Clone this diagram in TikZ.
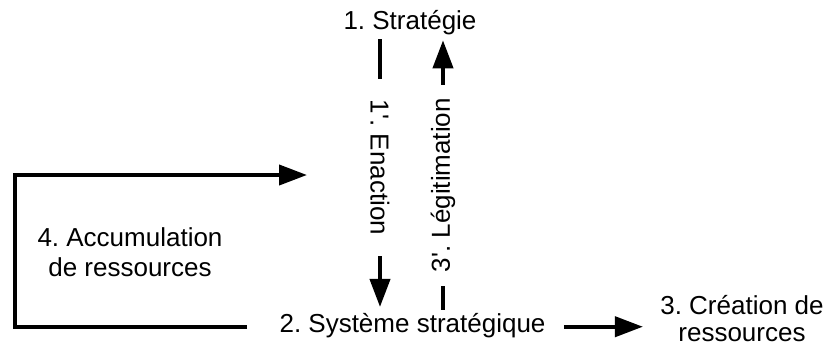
\documentclass[tikz,border=0pt]{standalone}
\usepackage{fontspec}
\setmainfont{Liberation Sans}
\usetikzlibrary{arrows.meta, positioning, calc}
\frenchspacing

\begin{document}
\begin{tikzpicture}[
  x=0.5pt, y=-0.5pt,
  txt/.style={inner sep=0pt, align=center, font=\fontsize{13}{15}\selectfont},
  flowtxt/.style={fill=white, inner ysep=1pt, font=\fontsize{13}{15}\selectfont},
  link/.style={line width=2pt, draw=black},
  arrow/.style={link, -{Triangle[length=14pt, width=10pt]}}
]
  \useasboundingbox (0,0) rectangle (826,349);

  \node[txt, anchor=base] (strat) at (410,29) {1. Stratégie};
  \node[txt, anchor=base] (sys) at (412.5,332) {2. Système stratégique};
  \node[txt, anchor=base, font=\fontsize{13}{13.4}\selectfont] (creat) at (742,341.7) {3. Création de\\ressources};
  \node[txt, anchor=base] (accum) at (130,276.7) {4. Accumulation\\de ressources};

  % enaction down, legitimation up
  \coordinate (enTop) at ($(strat.south)+(-30,4.5)$);
  \coordinate (legTop) at ($(strat.south)+(33,5.5)$);
  \draw[arrow] (enTop) -- node[flowtxt, rotate=-90, inner xsep=10.25pt, pos=0.479] {1\textquotesingle. Enaction} ($(enTop |- sys.north)+(0,-5.5)$);
  \draw[arrow] ($(legTop |- sys.north)+(0,-2.5)$) -- node[flowtxt, rotate=90, inner xsep=6.75pt, pos=0.463] {3\textquotesingle. Légitimation} (legTop);

  % accumulation loop
  \coordinate (loopCorner) at (15,175);
  \coordinate (loopEnd) at (307,175);
  \draw[arrow] ($(sys.mid west)+(-32,0)$) -| (loopCorner) -- (loopEnd);

  \draw[arrow] ($(sys.mid east)+(18,0)$) -- ($(sys.mid east -| creat.west)+(-17,0)$);
\end{tikzpicture}
\end{document}
